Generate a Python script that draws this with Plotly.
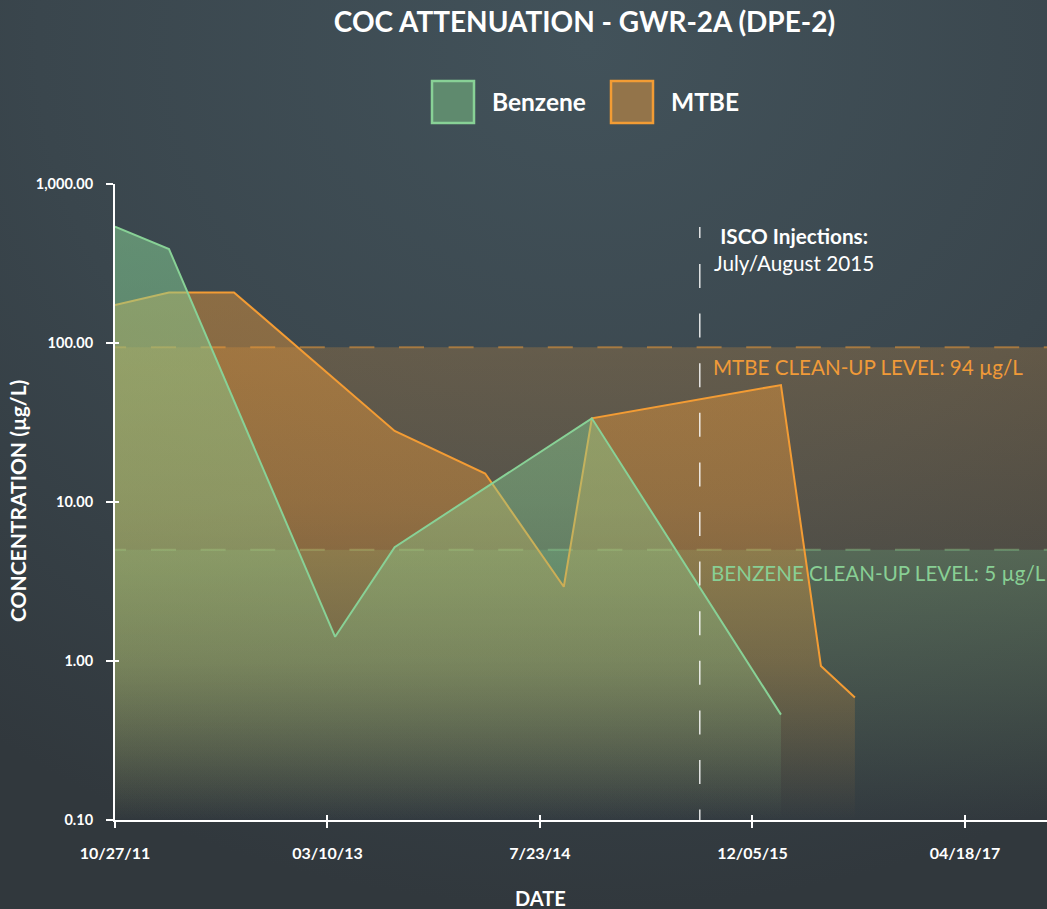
import base64
import plotly.graph_objects as go

# ---------------- data ----------------
TITLE = "COC ATTENUATION - GWR-2A (DPE-2)"

BENZENE_DATES = ["2011-10-27", "2012-03-02", "2013-03-28", "2013-08-15", "2014-11-22", "2016-02-10"]
BENZENE_VALUES = [540, 390, 1.42, 5.2, 33.6, 0.46]

MTBE_DATES = ["2011-10-27", "2012-03-02", "2012-08-02", "2013-08-15", "2014-03-16",
              "2014-09-17", "2014-11-22", "2016-02-10", "2016-05-14", "2016-08-02"]
MTBE_VALUES = [173, 208, 208, 28, 15.1, 2.93, 33.6, 54.4, 0.93, 0.59]

MTBE_LEVEL = 94
BENZENE_LEVEL = 5
ISCO_DATE = "2015-08-03"

X_RANGE = ["2011-10-27", "2017-10-28"]
X_TICKS = ["2011-10-27", "2013-03-10", "2014-07-23", "2015-12-05", "2017-04-18"]
X_TICKTEXT = ["10/27/11", "03/10/13", "7/23/14", "12/05/15", "04/18/17"]
Y_TICKS = [0.1, 1, 10, 100, 1000]
Y_TICKTEXT = ["0.10", "1.00", "10.00", "100.00", "1,000.00"]
Y_MIN, Y_MAX = 0.1, 1000

# ---------------- style ----------------
W, H = 1047, 909
PL, PR, PT, PB = 115, 1047, 184, 820
GREEN = "#88d196"
ORANGE = "#f39c34"
GREEN_RGB = "134,207,147"
ORANGE_RGB = "245,157,54"
BAND_GREEN_RGB = "150,185,115"
FONT = "Lato"


def px(x):
    return (x - PL) / (PR - PL)


def py(y):
    return (PB - y) / (PB - PT)


def grad(rgb, stops):
    return dict(type="vertical", start=Y_MIN, stop=Y_MAX,
                colorscale=[[f, f"rgba({rgb},{a})"] for f, a in stops])


H_DASH = "11px,25px," + ",".join(["25px,24.6px"] * 20)
V_DASH = "11px,26px," + ",".join(["24px,25.6px"] * 13)

fig = go.Figure()

# benzene clean-up band (0.1 .. 5)
fig.add_trace(go.Scatter(x=X_RANGE, y=[Y_MIN, Y_MIN], mode="lines", line=dict(width=0),
                         hoverinfo="skip", showlegend=False))
fig.add_trace(go.Scatter(x=X_RANGE, y=[BENZENE_LEVEL, BENZENE_LEVEL], mode="lines",
                         line=dict(color="rgba(134,207,147,0.45)", width=2, dash=H_DASH),
                         fill="tonexty",
                         fillgradient=grad(BAND_GREEN_RGB, [(0, 0.0), (0.425, 0.32), (1, 0.5)]),
                         hoverinfo="skip", showlegend=False))
# MTBE clean-up band (5 .. 94)
fig.add_trace(go.Scatter(x=X_RANGE, y=[BENZENE_LEVEL, BENZENE_LEVEL], mode="lines", line=dict(width=0),
                         hoverinfo="skip", showlegend=False))
fig.add_trace(go.Scatter(x=X_RANGE, y=[MTBE_LEVEL, MTBE_LEVEL], mode="lines",
                         line=dict(color="rgba(245,157,54,0.5)", width=2, dash=H_DASH),
                         fill="tonexty",
                         fillgradient=grad(ORANGE_RGB, [(0, 0.01), (1, 0.29)]),
                         hoverinfo="skip", showlegend=False))

# MTBE series
fig.add_trace(go.Scatter(x=[MTBE_DATES[0], MTBE_DATES[-1]], y=[Y_MIN, Y_MIN], mode="lines",
                         line=dict(width=0), hoverinfo="skip", showlegend=False))
fig.add_trace(go.Scatter(x=MTBE_DATES, y=MTBE_VALUES, mode="lines", name="MTBE",
                         line=dict(color=ORANGE, width=2), fill="tonexty",
                         fillgradient=grad(ORANGE_RGB, [(0, 0.0), (0.25, 0.25), (0.5, 0.38), (1, 0.46)]),
                         showlegend=False))
# Benzene series
fig.add_trace(go.Scatter(x=[BENZENE_DATES[0], BENZENE_DATES[-1]], y=[Y_MIN, Y_MIN], mode="lines",
                         line=dict(width=0), hoverinfo="skip", showlegend=False))
fig.add_trace(go.Scatter(x=BENZENE_DATES, y=BENZENE_VALUES, mode="lines", name="Benzene",
                         line=dict(color=GREEN, width=2), fill="tonexty",
                         fillgradient=grad(GREEN_RGB, [(0, 0.0), (0.25, 0.28), (0.5, 0.42), (1, 0.55)]),
                         showlegend=False))

# invisible trace for the overlay (crossing tick) axes
fig.add_trace(go.Scatter(x=[X_RANGE[0]], y=[1], xaxis="x2", yaxis="y2", mode="markers",
                         marker=dict(opacity=0), hoverinfo="skip", showlegend=False))

# background gradient as an svg image
svg = (f'<svg xmlns="http://www.w3.org/2000/svg" width="{W}" height="{H}">'
       '<defs><radialGradient id="g" cx="0.56" cy="0.05" r="0.95">'
       '<stop offset="0" stop-color="#42525a"/><stop offset="0.55" stop-color="#3a464d"/>'
       '<stop offset="1" stop-color="#31383d"/></radialGradient></defs>'
       f'<rect width="{W}" height="{H}" fill="url(#g)"/></svg>')
bg_src = "data:image/svg+xml;base64," + base64.b64encode(svg.encode()).decode()

fig.update_layout(
    width=W, height=H,
    margin=dict(l=PL, r=W - PR, t=PT, b=H - PB),
    paper_bgcolor="#363f45", plot_bgcolor="rgba(0,0,0,0)",
    font=dict(family=FONT, color="white"),
    title=dict(text=TITLE, x=px(584.5), xref="paper", xanchor="center",
               y=1 - 22 / H, yref="container", yanchor="middle",
               font=dict(family=FONT, size=28, color="white", weight=700)),
    showlegend=False,
    xaxis=dict(type="date", range=X_RANGE, tickvals=X_TICKS, ticktext=X_TICKTEXT,
               showgrid=False, zeroline=False, showline=True, linecolor="white", linewidth=2,
               ticks="outside", ticklen=6, tickwidth=2, tickcolor="white",
               tickfont=dict(family=FONT, size=16, color="white", weight=700),
               ticklabelstandoff=12),
    yaxis=dict(type="log", range=[-1, 3], tickvals=Y_TICKS, ticktext=Y_TICKTEXT,
               showgrid=False, zeroline=False, showline=True, linecolor="white", linewidth=2,
               ticks="outside", ticklen=7, tickwidth=2, tickcolor="white",
               tickfont=dict(family=FONT, size=14.5, color="white", weight=700),
               ticklabelstandoff=10),
    xaxis2=dict(type="date", overlaying="x", matches="x", anchor="y2", side="bottom",
                tickvals=X_TICKS, showticklabels=False, showgrid=False, zeroline=False,
                showline=False, ticks="inside", ticklen=5, tickwidth=2, tickcolor="white"),
    yaxis2=dict(type="log", overlaying="y", matches="y", anchor="x2", side="left",
                tickvals=Y_TICKS, showticklabels=False, showgrid=False, zeroline=False,
                showline=False, ticks="inside", ticklen=4, tickwidth=2, tickcolor="white"),
    images=[dict(source=bg_src, xref="paper", yref="paper", x=px(0), y=py(0),
                 sizex=W / (PR - PL), sizey=H / (PB - PT), xanchor="left", yanchor="top",
                 sizing="stretch", layer="below")],
)

# ISCO vertical line
fig.add_shape(type="line", xref="x", yref="paper", x0=ISCO_DATE, x1=ISCO_DATE,
              y0=py(227), y1=0, line=dict(color="rgba(255,255,255,0.85)", width=1.5, dash=V_DASH),
              layer="above")

ann = []
ann.append(dict(text="<b>ISCO Injections:</b><br>July/August 2015", x=px(793.5), y=py(249),
                xref="paper", yref="paper", xanchor="center", yanchor="middle", align="center",
                showarrow=False, font=dict(family=FONT, size=20.7, color="white")))
ann.append(dict(text=f"MTBE CLEAN-UP LEVEL: {MTBE_LEVEL} µg/L", x=px(710.5), y=py(367),
                xref="paper", yref="paper", xanchor="left", yanchor="middle", showarrow=False,
                font=dict(family=FONT, size=20.6, color="#f09a38")))
ann.append(dict(text=f"BENZENE CLEAN-UP LEVEL: {BENZENE_LEVEL} µg/L", x=px(708.5), y=py(573),
                xref="paper", yref="paper", xanchor="left", yanchor="middle", showarrow=False,
                font=dict(family=FONT, size=20.6, color="#88cf94")))
ann.append(dict(text="<b>CONCENTRATION (µg/L)</b>", x=px(18), y=py(501), textangle=-90,
                xref="paper", yref="paper", xanchor="center", yanchor="middle", showarrow=False,
                font=dict(family=FONT, size=21, color="white")))
ann.append(dict(text="<b>DATE</b>", x=px(540), y=py(898),
                xref="paper", yref="paper", xanchor="center", yanchor="middle", showarrow=False,
                font=dict(family=FONT, size=20, color="white")))

# legend (drawn manually to match the large swatches)
legend_items = [("Benzene", "#5f8a6e", GREEN, 432, 490), ("MTBE", "#93744a", ORANGE, 611, 669)]
for name, fillc, linec, bx, tx in legend_items:
    fig.add_shape(type="rect", xref="paper", yref="paper", x0=px(bx), x1=px(bx + 42),
                  y0=py(123), y1=py(81), fillcolor=fillc, line=dict(color=linec, width=2.5))
    ann.append(dict(text=f"<b>{name}</b>", x=px(tx), y=py(102), xref="paper", yref="paper",
                    xanchor="left", yanchor="middle", showarrow=False,
                    font=dict(family=FONT, size=24.5, color="white")))

fig.update_layout(annotations=ann)
fig.write_html("out.html", config={"displayModeBar": False},
               post_script="document.body.style.margin='0px';document.body.style.overflow='hidden';")
